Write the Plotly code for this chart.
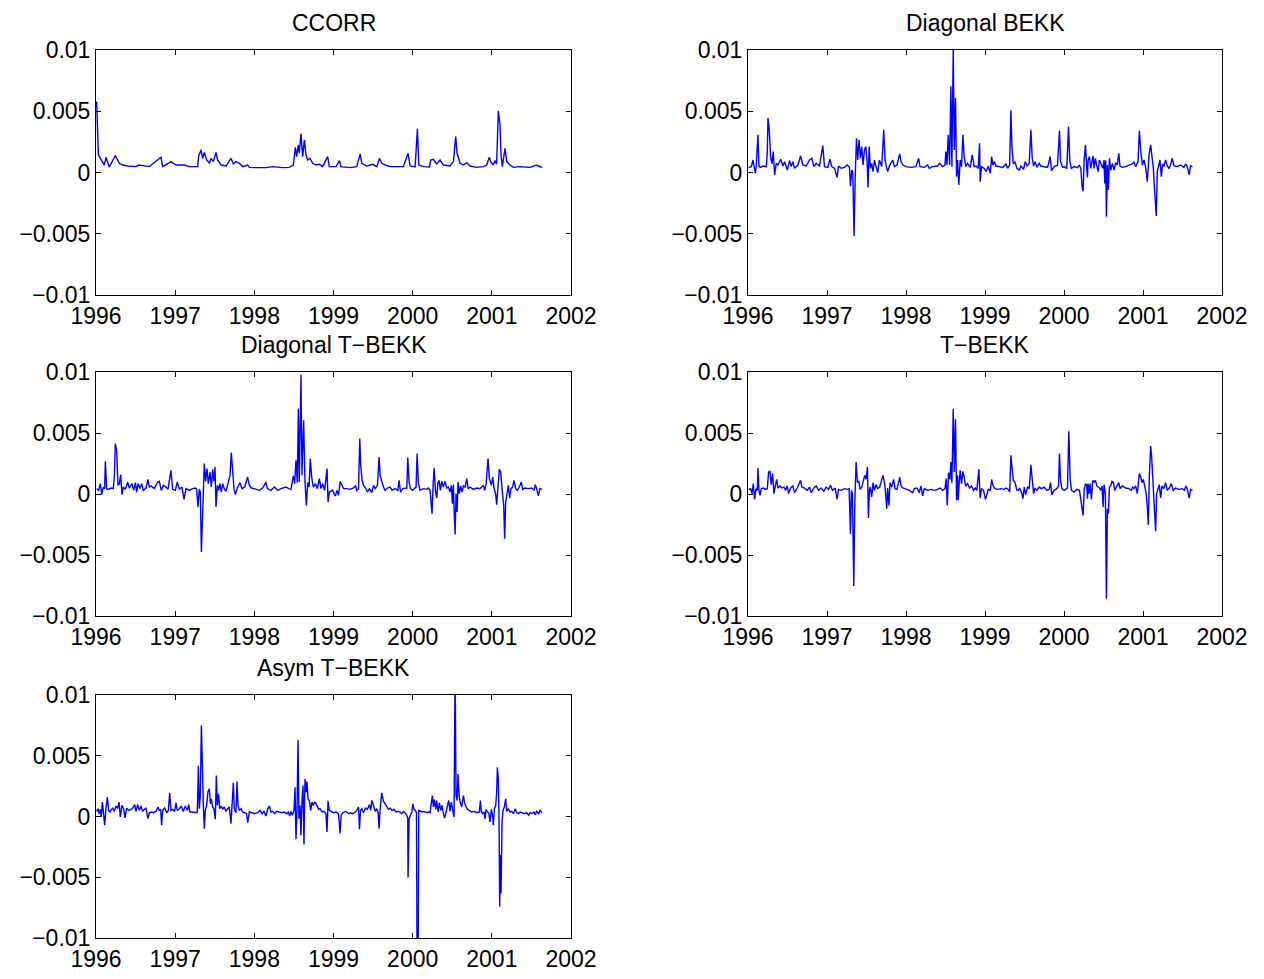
import plotly.graph_objects as go

# ---- data: (decimal year, value) ----
ccorr = [
(1996.008,0.0058),(1996.03,0.00143),(1996.105,0.00061),(1996.126,0.00124),(1996.168,0.00045),
(1996.244,0.00138),(1996.295,0.00075),(1996.337,0.00061),(1996.40,0.00053),(1996.505,0.00048),
(1996.539,0.00061),(1996.674,0.00048),(1996.821,0.00124),(1996.842,0.00048),(1996.947,0.00089),
(1997.011,0.00061),(1997.116,0.00061),(1997.179,0.00048),(1997.284,0.00048),(1997.297,0.00135),
(1997.326,0.00184),(1997.347,0.00116),(1997.368,0.00163),(1997.398,0.00102),(1997.432,0.00075),
(1997.453,0.00116),(1997.482,0.00089),(1997.516,0.00163),(1997.537,0.00102),(1997.579,0.00061),
(1997.642,0.00053),(1997.705,0.00116),(1997.735,0.0007),(1997.768,0.00089),(1997.811,0.00075),
(1997.853,0.00048),(1997.916,0.00061),(1997.937,0.00042),(1998.021,0.0004),(1998.147,0.0004),
(1998.232,0.00048),(1998.358,0.0004),(1998.442,0.00042),(1998.493,0.00061),(1998.518,0.00206),
(1998.535,0.0013),(1998.556,0.00225),(1998.568,0.00157),(1998.589,0.00316),(1998.611,0.0013),
(1998.632,0.00266),(1998.653,0.00143),(1998.674,0.00102),(1998.703,0.00116),(1998.737,0.00075),
(1998.779,0.00061),(1998.821,0.00067),(1998.863,0.00048),(1998.926,0.0013),(1998.947,0.00048),
(1999.032,0.00048),(1999.076,0.00097),(1999.093,0.00048),(1999.21,0.0004),(1999.294,0.00048),
(1999.337,0.00152),(1999.358,0.00075),(1999.421,0.00053),(1999.496,0.00067),(1999.547,0.00048),
(1999.581,0.00116),(1999.61,0.00075),(1999.652,0.00061),(1999.715,0.00048),(1999.82,0.00048),
(1999.883,0.00048),(1999.942,0.00157),(1999.968,0.00053),(2000.031,0.00045),(2000.06,0.00357),
(2000.077,0.00061),(2000.136,0.00048),(2000.212,0.00045),(2000.228,0.00102),(2000.262,0.00108),
(2000.304,0.0007),(2000.346,0.00102),(2000.388,0.00061),(2000.472,0.00053),(2000.515,0.00089),
(2000.544,0.00294),(2000.561,0.00157),(2000.599,0.00075),(2000.641,0.00061),(2000.683,0.00081),
(2000.725,0.00053),(2000.809,0.00042),(2000.893,0.00048),(2000.935,0.00061),(2000.969,0.00124),
(2000.986,0.00089),(2001.019,0.00061),(2001.04,0.00097),(2001.061,0.0007),(2001.082,0.00504),
(2001.103,0.0039),(2001.116,0.00143),(2001.133,0.00048),(2001.154,0.00143),(2001.167,0.00198),
(2001.188,0.00089),(2001.23,0.00061),(2001.272,0.00042),(2001.356,0.00048),(2001.482,0.00042),
(2001.566,0.00061),(2001.587,0.00053),(2001.634,0.00042),
]

diag_bekk = [
(1996.008,0.0004),(1996.042,0.00048),(1996.063,0.00102),(1996.076,0.00034),(1996.093,-0.00007),
(1996.105,0.00061),(1996.126,0.00307),(1996.139,0.00048),(1996.16,0.00042),(1996.189,0.00053),
(1996.232,0.00048),(1996.244,0.00163),(1996.253,0.00444),(1996.269,0.00348),(1996.286,0.0013),
(1996.303,0.0007),(1996.32,0.00171),(1996.337,-0.0002),(1996.358,0.00075),(1996.379,0.00061),
(1996.413,0.00108),(1996.442,0.00053),(1996.463,0.00089),(1996.497,0.0002),(1996.526,0.00097),
(1996.547,0.00048),(1996.568,0.00089),(1996.589,0.00034),(1996.632,0.00061),(1996.665,0.00135),
(1996.695,0.00061),(1996.737,0.00053),(1996.779,0.00102),(1996.808,0.00116),(1996.834,0.00048),
(1996.863,0.00075),(1996.905,0.00053),(1996.947,0.0022),(1996.968,0.00048),(1997.011,0.00042),
(1997.036,0.00108),(1997.061,0.00048),(1997.095,0.00034),(1997.128,-0.0004),(1997.145,0.00053),
(1997.179,0.00034),(1997.221,0.00042),(1997.255,0.00061),(1997.284,0.00042),(1997.297,-0.00111),
(1997.314,0.0002),(1997.326,0.00007),(1997.343,-0.0052),(1997.356,-0.00061),(1997.373,0.0028),
(1997.389,0.00102),(1997.406,0.00266),(1997.423,0.00116),(1997.44,0.00212),(1997.457,0.00061),
(1997.474,0.00184),(1997.491,0.00212),(1997.507,0.00089),(1997.52,-0.00122),(1997.533,0.00212),
(1997.549,0.00034),(1997.566,0.00075),(1997.583,0.00007),(1997.6,0.00102),(1997.621,0.00048),
(1997.642,-0.00001),(1997.663,0.00102),(1997.693,0.00048),(1997.718,0.00348),(1997.735,0.00102),
(1997.752,0.00048),(1997.768,0.00007),(1997.794,0.00061),(1997.832,0.00102),(1997.853,0.00048),
(1997.886,0.00061),(1997.92,0.00152),(1997.937,0.00089),(1997.962,0.00061),(1998.0,0.00048),
(1998.063,0.00042),(1998.126,0.00048),(1998.16,0.00116),(1998.177,0.00048),(1998.232,0.00042),
(1998.274,0.00061),(1998.295,0.00034),(1998.337,0.00048),(1998.4,0.00053),(1998.425,0.00075),
(1998.463,0.00048),(1998.493,0.00061),(1998.505,0.00171),(1998.518,0.00061),(1998.535,0.00307),
(1998.552,0.00061),(1998.568,0.00703),(1998.581,0.00048),(1998.598,0.0102),(1998.611,0.00184),
(1998.627,0.00608),(1998.64,-0.00034),(1998.653,0.00102),(1998.669,-0.00102),(1998.686,0.00102),
(1998.703,0.00048),(1998.72,0.00307),(1998.737,0.0013),(1998.758,0.00048),(1998.779,0.00075),
(1998.813,0.00042),(1998.838,0.00143),(1998.863,0.00048),(1998.888,0.00053),(1998.914,0.00034),
(1998.931,0.00239),(1998.939,-0.00075),(1998.956,0.00048),(1998.989,0.00034),(1999.015,0.00007),
(1999.042,0.00053),(1999.067,-0.00007),(1999.084,0.0013),(1999.101,0.00061),(1999.118,0.00089),
(1999.139,0.00053),(1999.181,0.00048),(1999.223,0.00042),(1999.265,0.0007),(1999.286,0.00034),
(1999.312,0.00061),(1999.328,0.00507),(1999.341,0.00212),(1999.358,0.0007),(1999.379,0.00089),
(1999.404,0.00034),(1999.434,0.0002),(1999.455,0.00053),(1999.488,0.00026),(1999.509,0.00089),
(1999.531,0.00053),(1999.56,0.00075),(1999.581,0.00348),(1999.598,0.00116),(1999.615,0.00053),
(1999.636,0.00089),(1999.657,0.00042),(1999.686,0.00075),(1999.707,0.00053),(1999.749,0.00048),
(1999.792,0.00042),(1999.825,0.0013),(1999.842,0.00015),(1999.876,0.00048),(1999.918,0.00061),
(1999.943,0.00343),(1999.956,0.00089),(1999.981,0.00042),(2000.002,0.00048),(2000.036,0.00034),
(2000.057,0.00376),(2000.074,0.00089),(2000.095,0.00034),(2000.128,0.00048),(2000.171,0.0004),
(2000.192,0.00061),(2000.213,0.00034),(2000.229,-0.00116),(2000.242,-0.00152),(2000.255,0.00102),
(2000.272,0.00225),(2000.288,0.00034),(2000.297,-0.0004),(2000.305,0.00102),(2000.322,0.0013),
(2000.339,0.00034),(2000.352,0.00075),(2000.368,0.00135),(2000.381,0.00034),(2000.398,0.00116),
(2000.415,0.00053),(2000.432,0.00007),(2000.448,0.00102),(2000.474,0.00061),(2000.491,0.00034),
(2000.507,0.00102),(2000.516,-0.00089),(2000.528,0.00097),(2000.537,-0.00362),(2000.549,0.00061),
(2000.562,-0.00143),(2000.575,0.00116),(2000.592,0.0002),(2000.613,0.00075),(2000.634,0.0002),
(2000.655,0.00081),(2000.676,0.00061),(2000.693,0.00157),(2000.709,0.00053),(2000.739,0.00042),
(2000.781,0.00048),(2000.823,0.00061),(2000.865,0.0007),(2000.886,0.00089),(2000.907,0.00048),
(2000.937,0.00089),(2000.954,0.00343),(2000.971,0.00184),(2000.992,0.00061),(2001.013,0.00102),
(2001.034,0.0004),(2001.055,-0.00075),(2001.076,0.00143),(2001.097,0.00225),(2001.114,0.00143),
(2001.131,0.00034),(2001.147,-0.00143),(2001.168,-0.00354),(2001.181,0.0001),(2001.198,0.00048),
(2001.215,0.00102),(2001.232,-0.00034),(2001.248,0.0007),(2001.265,0.00048),(2001.286,0.00102),
(2001.307,0.00053),(2001.328,0.00034),(2001.349,0.00061),(2001.371,0.00116),(2001.392,0.00053),
(2001.434,0.00048),(2001.476,0.00061),(2001.518,0.00042),(2001.539,0.0007),(2001.56,0.00048),
(2001.585,-0.0002),(2001.602,0.00053),(2001.627,0.00048),
]

diag_tbekk = [
(1996.008,0.00044),(1996.034,0.0003),(1996.055,0.00085),(1996.072,-0.00005),(1996.093,0.00057),
(1996.109,0.00044),(1996.118,0.00268),(1996.135,0.00044),(1996.16,0.00038),(1996.189,0.00049),
(1996.219,0.00044),(1996.232,0.00148),(1996.244,0.00413),(1996.261,0.00358),(1996.278,0.00071),
(1996.295,0.00085),(1996.312,0.00158),(1996.328,-0.00005),(1996.345,0.00057),(1996.371,0.00038),
(1996.4,0.00098),(1996.421,0.00049),(1996.455,0.00085),(1996.476,0.0003),(1996.497,0.00093),
(1996.514,0.00016),(1996.531,0.00085),(1996.556,0.00044),(1996.577,0.00085),(1996.598,0.0003),
(1996.632,0.00049),(1996.657,0.0012),(1996.674,0.00057),(1996.695,0.00066),(1996.737,0.00044),
(1996.779,0.00098),(1996.8,0.00104),(1996.825,0.0003),(1996.851,0.00071),(1996.884,0.00057),
(1996.909,0.00038),(1996.947,0.00194),(1996.968,0.00038),(1997.002,0.0003),(1997.027,0.00098),
(1997.053,0.00038),(1997.086,0.00057),(1997.112,-0.00044),(1997.137,0.00044),(1997.179,0.0003),
(1997.221,0.00044),(1997.255,0.00049),(1997.272,0.00038),(1997.288,-0.00107),(1997.305,0.00038),
(1997.318,0.00016),(1997.331,-0.00475),(1997.347,-0.00066),(1997.368,0.00249),(1997.385,0.00104),
(1997.402,0.00208),(1997.419,0.00085),(1997.44,0.0018),(1997.457,0.00057),(1997.474,0.00202),
(1997.491,0.00104),(1997.503,0.00221),(1997.516,-0.00107),(1997.533,0.00071),(1997.549,0.0003),
(1997.566,0.00085),(1997.583,0.00016),(1997.6,0.00085),(1997.621,0.00044),(1997.642,0.00022),
(1997.663,0.00077),(1997.693,0.00153),(1997.709,0.00339),(1997.726,0.00139),(1997.743,0.00044),
(1997.76,-0.00005),(1997.785,0.00049),(1997.819,0.00093),(1997.844,0.00044),(1997.878,0.00057),
(1997.916,0.00139),(1997.937,0.00071),(1997.962,0.00049),(1998.0,0.00044),(1998.063,0.0003),
(1998.105,0.00049),(1998.147,0.00098),(1998.164,0.00044),(1998.211,0.0003),(1998.253,0.00057),
(1998.295,0.0003),(1998.337,0.00044),(1998.4,0.00057),(1998.434,0.00044),(1998.463,0.00038),
(1998.493,0.00148),(1998.509,0.00085),(1998.526,0.00276),(1998.543,0.00093),(1998.556,0.00699),
(1998.568,0.00098),(1998.589,0.00978),(1998.602,0.00153),(1998.623,0.00604),(1998.64,0.00098),
(1998.657,-0.00093),(1998.674,0.00093),(1998.691,0.00057),(1998.707,0.0029),(1998.724,0.00139),
(1998.745,0.00057),(1998.771,0.00085),(1998.796,0.00044),(1998.821,0.00126),(1998.842,0.00044),
(1998.863,0.00085),(1998.888,0.0003),(1998.918,0.00208),(1998.931,-0.00066),(1998.947,0.00016),
(1998.989,0.0003),(1999.011,-0.00005),(1999.025,-0.00016),(1999.042,0.0003),(1999.063,-0.00011),
(1999.084,0.00104),(1999.105,0.00071),(1999.126,0.00044),(1999.168,0.00044),(1999.21,0.00038),
(1999.252,0.00049),(1999.278,0.00066),(1999.294,0.0003),(1999.316,0.00044),(1999.332,0.00454),
(1999.345,0.00221),(1999.362,0.00112),(1999.379,0.00071),(1999.404,0.00049),(1999.429,0.00016),
(1999.454,0.00044),(1999.484,0.00011),(1999.505,0.00071),(1999.526,0.00044),(1999.555,0.00071),
(1999.576,0.00303),(1999.589,0.00153),(1999.61,0.00093),(1999.631,0.00057),(1999.652,0.0003),
(1999.682,0.00049),(1999.715,0.00057),(1999.74,0.0003),(1999.778,0.00044),(1999.812,0.0003),
(1999.829,0.00112),(1999.846,0.00016),(1999.875,0.00044),(1999.904,0.00044),(1999.926,0.00049),
(1999.938,0.00298),(1999.955,0.00098),(1999.972,0.00044),(2000.001,0.0003),(2000.018,0.00044),
(2000.043,0.00057),(2000.056,0.00331),(2000.073,0.00085),(2000.094,0.0003),(2000.136,0.00044),
(2000.178,0.00038),(2000.199,0.00049),(2000.22,0.0003),(2000.233,-0.0012),(2000.245,-0.00161),
(2000.258,0.00071),(2000.271,0.00213),(2000.287,0.0003),(2000.304,-0.00033),(2000.317,0.00085),
(2000.334,0.00112),(2000.35,0.0003),(2000.367,0.00104),(2000.388,0.00057),(2000.409,0.00104),
(2000.43,0.00049),(2000.451,0.00057),(2000.472,0.00016),(2000.489,0.00071),(2000.502,-0.00079),
(2000.515,0.00077),(2000.523,-0.0012),(2000.536,-0.00331),(2000.548,0.00003),(2000.561,-0.00148),
(2000.573,0.00098),(2000.59,0.00003),(2000.607,0.00066),(2000.624,0.00016),(2000.641,0.00066),
(2000.662,0.00057),(2000.683,0.00126),(2000.7,0.00044),(2000.725,0.00057),(2000.767,0.00038),
(2000.809,0.00049),(2000.851,0.00044),(2000.872,0.00057),(2000.893,0.00071),(2000.91,0.0003),
(2000.927,0.00077),(2000.952,0.0029),(2000.969,0.00126),(2000.994,0.00071),(2001.011,0.00139),
(2001.028,0.00049),(2001.049,-0.00005),(2001.061,-0.00087),(2001.078,0.00112),(2001.095,0.00202),
(2001.112,0.0018),(2001.125,0.0003),(2001.137,-0.00011),(2001.15,-0.00093),(2001.162,-0.00366),
(2001.175,-0.00066),(2001.192,0.00016),(2001.209,0.00071),(2001.225,-0.00033),(2001.242,0.00044),
(2001.263,0.00057),(2001.28,0.00112),(2001.301,0.00044),(2001.322,0.0003),(2001.347,0.00057),
(2001.373,0.00098),(2001.39,0.00038),(2001.419,0.00049),(2001.461,0.00044),(2001.503,0.00049),
(2001.533,0.0003),(2001.549,0.00077),(2001.566,0.00044),(2001.587,-0.00016),(2001.608,0.00044),
(2001.634,0.00038),
]

tbekk = [
(1996.008,0.00038),(1996.034,0.00044),(1996.051,0.00003),(1996.067,0.00085),(1996.084,-0.00044),
(1996.101,0.00044),(1996.118,0.0003),(1996.126,0.00213),(1996.139,0.0003),(1996.152,-0.00011),
(1996.168,0.00044),(1996.194,0.00049),(1996.219,0.00038),(1996.244,0.00044),(1996.261,0.0018),
(1996.278,0.00186),(1996.295,0.00077),(1996.312,0.00167),(1996.328,0.00003),(1996.345,0.00071),
(1996.362,0.0012),(1996.379,0.00049),(1996.404,0.00066),(1996.429,0.00049),(1996.455,0.00057),
(1996.476,0.0003),(1996.497,0.00066),(1996.514,0.00003),(1996.539,0.00049),(1996.568,0.00066),
(1996.589,0.00011),(1996.623,0.00049),(1996.665,0.00112),(1996.682,0.00057),(1996.716,0.00049),
(1996.749,0.0003),(1996.779,0.00057),(1996.8,0.00011),(1996.834,0.00049),(1996.863,0.00066),
(1996.893,0.0003),(1996.926,0.00049),(1996.96,0.00022),(1996.989,0.00057),(1997.019,0.00038),
(1997.044,0.00071),(1997.069,0.0003),(1997.103,0.00049),(1997.128,-0.00044),(1997.145,0.00038),
(1997.179,0.0003),(1997.221,0.00044),(1997.255,0.00038),(1997.28,0.00044),(1997.297,-0.00325),
(1997.309,0.0003),(1997.322,0.00003),(1997.339,-0.00754),(1997.352,-0.00066),(1997.368,0.00262),
(1997.385,0.00098),(1997.402,0.00104),(1997.419,0.00038),(1997.44,0.00057),(1997.461,0.00112),
(1997.478,0.00153),(1997.495,0.0012),(1997.512,0.00221),(1997.524,-0.00197),(1997.537,0.0003),
(1997.549,0.00057),(1997.566,-0.00025),(1997.583,0.00093),(1997.6,0.0003),(1997.621,0.00077),
(1997.642,0.00044),(1997.667,0.00057),(1997.693,0.0012),(1997.709,0.00153),(1997.726,0.00098),
(1997.739,0.0003),(1997.756,-0.0012),(1997.768,0.00049),(1997.785,-0.00093),(1997.798,0.00093),
(1997.819,0.00057),(1997.844,0.0012),(1997.861,0.00044),(1997.886,0.00038),(1997.92,0.00139),
(1997.937,0.00066),(1997.962,0.00049),(1998.0,0.00038),(1998.042,0.0003),(1998.084,0.00011),
(1998.105,0.00044),(1998.139,0.00049),(1998.168,0.00011),(1998.189,0.00066),(1998.211,-0.00016),
(1998.232,0.00044),(1998.274,0.0003),(1998.316,0.00038),(1998.358,0.0003),(1998.4,0.00038),
(1998.434,0.00049),(1998.463,0.0003),(1998.493,0.00044),(1998.509,0.00126),(1998.522,-0.00093),
(1998.539,0.00175),(1998.556,0.0012),(1998.568,0.00262),(1998.581,0.00093),(1998.598,0.00699),
(1998.611,0.0018),(1998.627,0.00612),(1998.64,-0.00052),(1998.653,0.00153),(1998.661,-0.00052),
(1998.674,0.00098),(1998.686,0.00194),(1998.703,0.00085),(1998.72,0.00186),(1998.737,0.00139),
(1998.754,0.00066),(1998.779,0.00085),(1998.804,0.00049),(1998.829,0.00066),(1998.855,0.0003),
(1998.876,0.00049),(1998.897,0.0003),(1998.922,0.00202),(1998.939,-0.00033),(1998.956,0.00044),
(1998.981,0.0003),(1999.006,-0.00044),(1999.042,0.00038),(1999.067,0.0003),(1999.084,0.0012),
(1999.101,0.00071),(1999.126,0.00044),(1999.16,0.00038),(1999.202,0.00044),(1999.244,0.00038),
(1999.269,0.00049),(1999.295,0.00038),(1999.312,0.00016),(1999.328,0.00317),(1999.345,0.00194),
(1999.358,0.00112),(1999.379,0.00098),(1999.404,0.0003),(1999.421,0.0003),(1999.438,0.00049),
(1999.463,0.00011),(1999.48,-0.00038),(1999.497,0.00057),(1999.514,-0.00005),(1999.539,0.00057),
(1999.56,0.00044),(1999.581,0.0024),(1999.598,0.00077),(1999.615,0.00003),(1999.632,0.00049),
(1999.657,0.0003),(1999.686,0.00057),(1999.716,0.00044),(1999.749,0.00057),(1999.783,0.0003),
(1999.813,0.00038),(1999.829,0.00093),(1999.846,-0.00005),(1999.876,0.0003),(1999.909,0.00044),
(1999.931,0.00066),(1999.943,0.00331),(1999.956,0.00112),(1999.973,0.00044),(2000.002,0.0003),
(2000.023,0.00038),(2000.044,0.00049),(2000.061,0.00514),(2000.078,0.0012),(2000.095,0.0003),
(2000.128,0.00016),(2000.162,0.00038),(2000.196,0.0003),(2000.229,-0.0012),(2000.242,-0.00175),
(2000.255,0.0003),(2000.272,0.00085),(2000.288,0.00071),(2000.297,-0.00038),(2000.305,0.00085),
(2000.318,0.00003),(2000.331,0.00085),(2000.347,-0.00044),(2000.364,0.00112),(2000.381,0.00098),
(2000.398,0.00112),(2000.415,0.00066),(2000.432,0.00057),(2000.448,0.00049),(2000.465,0.0003),
(2000.482,0.00066),(2000.495,-0.00107),(2000.507,0.00077),(2000.524,0.00003),(2000.537,-0.00858),
(2000.549,-0.0012),(2000.562,-0.00161),(2000.575,0.00057),(2000.592,0.00071),(2000.608,0.00104),
(2000.625,0.00093),(2000.642,0.0003),(2000.659,0.00049),(2000.676,0.00066),(2000.693,0.00093),
(2000.709,0.00044),(2000.739,0.00066),(2000.781,0.00049),(2000.823,0.00044),(2000.853,0.0003),
(2000.869,0.00057),(2000.886,0.00044),(2000.907,0.00066),(2000.928,0.00003),(2000.954,0.00167),
(2000.971,0.00139),(2000.987,0.00093),(2001.004,0.0012),(2001.021,0.00057),(2001.038,0.00011),
(2001.055,-0.00107),(2001.067,-0.00251),(2001.08,0.00139),(2001.097,0.00393),(2001.109,0.00311),
(2001.122,0.00139),(2001.135,0.00003),(2001.147,-0.00134),(2001.16,-0.00306),(2001.173,0.00003),
(2001.189,0.00044),(2001.206,0.00077),(2001.223,-0.00033),(2001.24,0.00066),(2001.265,0.00044),
(2001.286,0.00093),(2001.307,0.0003),(2001.333,0.00049),(2001.358,0.00085),(2001.383,0.0003),
(2001.413,0.00049),(2001.455,0.00038),(2001.497,0.00044),(2001.526,0.0003),(2001.543,0.00066),
(2001.56,0.00044),(2001.585,-0.00033),(2001.602,0.00038),(2001.627,0.0003),
]

asym_tbekk = [
(1996.008,0.00042),(1996.025,0.00064),(1996.038,0.00023),(1996.055,0.00059),(1996.067,-0.00004),
(1996.08,0.00119),(1996.093,0.00042),(1996.109,-0.00072),(1996.126,0.00064),(1996.143,0.00159),
(1996.16,0.0005),(1996.177,0.00037),(1996.194,0.00059),(1996.211,0.00069),(1996.232,0.00042),
(1996.253,0.00086),(1996.274,0.00064),(1996.291,0.00119),(1996.307,-0.00004),(1996.328,0.00091),
(1996.349,0.00064),(1996.366,-0.00012),(1996.387,0.00069),(1996.413,0.0005),(1996.442,0.00059),
(1996.463,0.00069),(1996.488,0.00097),(1996.505,0.00042),(1996.526,0.00097),(1996.547,0.0005),
(1996.568,0.00086),(1996.589,0.00042),(1996.611,0.00059),(1996.632,0.00069),(1996.657,-0.00018),
(1996.674,0.00031),(1996.699,0.00037),(1996.724,0.00031),(1996.758,0.00042),(1996.783,0.00078),
(1996.8,0.0005),(1996.817,0.00059),(1996.829,-0.00072),(1996.842,0.0005),(1996.867,0.00069),
(1996.893,0.00031),(1996.914,0.0005),(1996.931,0.00195),(1996.947,0.0005),(1996.968,0.00059),
(1996.994,0.00042),(1997.011,0.00113),(1997.027,0.0005),(1997.053,0.00064),(1997.078,0.00086),
(1997.103,0.00042),(1997.128,0.00086),(1997.154,0.0005),(1997.171,0.00097),(1997.187,0.00037),
(1997.221,0.00037),(1997.255,0.00031),(1997.28,0.00037),(1997.293,0.00418),(1997.305,0.00064),
(1997.318,0.00173),(1997.331,0.00751),(1997.343,0.00364),(1997.356,0.00091),(1997.368,-0.001),
(1997.381,0.0005),(1997.398,0.00091),(1997.415,0.00206),(1997.432,0.00228),(1997.444,0.00105),
(1997.457,0.00146),(1997.474,0.00078),(1997.491,0.00059),(1997.507,-0.00023),(1997.52,0.00337),
(1997.533,0.00091),(1997.549,0.00187),(1997.562,0.00064),(1997.583,0.00086),(1997.6,0.00059),
(1997.621,0.00078),(1997.642,0.00042),(1997.663,0.00064),(1997.684,0.00078),(1997.705,-0.00059),
(1997.718,0.00105),(1997.735,0.00277),(1997.747,0.00064),(1997.768,0.00031),(1997.781,0.00287),
(1997.794,0.00091),(1997.811,0.0005),(1997.832,0.00064),(1997.853,0.00037),(1997.878,0.00031),
(1997.903,0.00023),(1997.916,-0.0005),(1997.937,0.00037),(1997.971,0.00031),(1998.0,0.00023),
(1998.042,0.00031),(1998.072,0.0005),(1998.097,0.00023),(1998.122,0.00042),(1998.147,0.00004),
(1998.168,0.00059),(1998.189,0.00086),(1998.211,0.00037),(1998.232,0.00042),(1998.257,0.00023),
(1998.282,0.00042),(1998.316,0.00037),(1998.349,0.00031),(1998.379,0.00037),(1998.408,0.00023),
(1998.429,0.00037),(1998.446,0.00004),(1998.463,0.00042),(1998.48,0.0001),(1998.501,0.0005),
(1998.514,0.00241),(1998.526,-0.00187),(1998.539,0.00037),(1998.552,0.0063),(1998.564,-0.00018),
(1998.577,0.00091),(1998.589,-0.00154),(1998.602,0.00132),(1998.615,0.00255),(1998.627,-0.0023),
(1998.64,0.00309),(1998.653,0.002),(1998.665,0.00287),(1998.678,0.00146),(1998.695,0.00132),
(1998.712,0.0005),(1998.728,0.00119),(1998.745,0.00091),(1998.762,0.00119),(1998.779,0.00105),
(1998.796,0.00078),(1998.813,0.00059),(1998.829,0.00064),(1998.855,0.00037),(1998.88,0.00042),
(1998.905,0.00023),(1998.918,-0.00127),(1998.931,0.00129),(1998.947,0.0005),(1998.973,0.00037),
(1998.998,0.00031),(1999.034,0.00037),(1999.063,0.00023),(1999.084,-0.0014),(1999.097,0.0001),
(1999.118,0.00031),(1999.147,0.00042),(1999.168,0.00037),(1999.194,0.00023),(1999.21,0.00031),
(1999.244,0.00023),(1999.273,0.00037),(1999.294,0.0005),(1999.316,0.00078),(1999.328,-0.00105),
(1999.341,0.0005),(1999.358,0.00064),(1999.379,0.00031),(1999.404,0.00069),(1999.429,0.00059),
(1999.454,0.00097),(1999.471,0.0005),(1999.484,0.00132),(1999.505,0.00091),(1999.526,0.00042),
(1999.547,0.00064),(1999.564,0.00031),(1999.576,-0.001),(1999.589,0.00059),(1999.61,0.00195),
(1999.631,0.00124),(1999.652,0.00105),(1999.673,0.00086),(1999.694,0.00059),(1999.715,0.00069),
(1999.74,0.0005),(1999.766,0.00059),(1999.791,0.00037),(1999.82,0.00042),(1999.841,0.00037),
(1999.862,0.00023),(1999.883,0.00042),(1999.904,0.00031),(1999.926,0.0001),(1999.938,-0.00018),
(1999.942,-0.00503),(1999.955,-0.00018),(1999.972,0.00004),(1999.989,0.00037),(2000.001,0.00105),
(2000.018,0.00059),(2000.035,0.0005),(2000.048,0.00031),(2000.056,-0.0125),(2000.069,-0.0125),
(2000.077,0.0005),(2000.094,0.00042),(2000.119,0.00037),(2000.144,0.00042),(2000.178,0.00031),
(2000.203,0.00037),(2000.22,0.00031),(2000.237,0.00119),(2000.249,0.00173),(2000.262,0.00078),
(2000.275,0.0014),(2000.292,0.00059),(2000.304,0.00132),(2000.321,0.00037),(2000.338,0.00113),
(2000.355,0.0005),(2000.371,0.00091),(2000.388,0.00023),(2000.405,-0.00012),(2000.422,0.00037),
(2000.439,0.00086),(2000.456,0.00132),(2000.472,0.00042),(2000.489,0.00119),(2000.506,0.0005),
(2000.523,-0.00004),(2000.536,0.0125),(2000.548,0.00173),(2000.561,0.00132),(2000.573,0.0035),
(2000.586,0.00173),(2000.599,0.00119),(2000.62,0.00078),(2000.641,0.00173),(2000.658,0.00105),
(2000.674,0.00078),(2000.691,0.00059),(2000.716,0.0005),(2000.746,0.00037),(2000.775,0.00042),
(2000.809,0.00031),(2000.843,0.00037),(2000.855,0.00132),(2000.868,0.00037),(2000.885,0.00023),
(2000.902,0.00037),(2000.914,-0.0002),(2000.927,0.00059),(2000.944,0.00037),(2000.96,0.00031),
(2000.977,-0.00045),(2000.994,0.00059),(2001.011,-0.00004),(2001.019,-0.00072),(2001.032,0.00064),
(2001.049,0.00091),(2001.061,0.002),(2001.07,0.00405),(2001.082,0.00309),(2001.091,-0.00018),
(2001.099,-0.0074),(2001.108,-0.00317),(2001.116,-0.00631),(2001.129,-0.00045),(2001.141,0.0005),
(2001.158,0.00078),(2001.175,0.00146),(2001.188,0.00042),(2001.209,0.00064),(2001.23,0.00037),
(2001.251,0.00042),(2001.272,0.00023),(2001.297,0.00064),(2001.314,0.00031),(2001.339,0.00023),
(2001.356,0.00037),(2001.39,0.00031),(2001.419,0.00023),(2001.44,0.00031),(2001.465,0.0001),
(2001.482,0.00031),(2001.503,0.00023),(2001.533,0.00037),(2001.549,0.00015),(2001.566,0.00042),
(2001.592,0.00023),(2001.608,0.0005),(2001.634,0.00031),
]

titles = ["CCORR", "Diagonal BEKK", "Diagonal T\u2212BEKK", "T\u2212BEKK", "Asym T\u2212BEKK"]
series = [ccorr, diag_bekk, diag_tbekk, tbekk, asym_tbekk]
x_ticks = [1996, 1997, 1998, 1999, 2000, 2001, 2002]
x_ticktext = ["1996", "1997", "1998", "1999", "2000", "2001", "2002"]
y_ticks = [-0.01, -0.005, 0, 0.005, 0.01]
y_ticktext = ["\u22120.01", "\u22120.005", "0", "0.005", "0.01"]

# ---- layout geometry (paper fractions) ----
W, H = 1264, 979
col_dom = [[96 / W, 571 / W], [748 / W, 1222 / W]]
row_dom = [[1 - 295 / H, 1 - 50 / H], [1 - 616 / H, 1 - 372 / H], [1 - 938 / H, 1 - 695 / H]]

FONT = "Liberation Sans, Arial, sans-serif"
FS = 23

fig = go.Figure()
layout = dict(
    width=W, height=H, margin=dict(l=0, r=0, t=0, b=0, autoexpand=False),
    paper_bgcolor="white", plot_bgcolor="white", showlegend=False,
    font=dict(family=FONT, size=FS, color="black"),
    template="none",
)
annotations = []
for i, (data, title) in enumerate(zip(series, titles)):
    r, c = divmod(i, 2)
    n = i + 1
    xa = "xaxis" if n == 1 else f"xaxis{n}"
    ya = "yaxis" if n == 1 else f"yaxis{n}"
    xs = [p[0] for p in data]
    ys = [p[1] for p in data]
    fig.add_trace(go.Scatter(
        x=xs, y=ys, mode="lines",
        line=dict(color="#0000ff", width=1.4),
        xaxis="x" if n == 1 else f"x{n}", yaxis="y" if n == 1 else f"y{n}",
        hoverinfo="skip",
    ))
    common = dict(showline=True, linecolor="black", linewidth=1, mirror="allticks",
                  ticks="inside", ticklen=5, tickcolor="black", tickwidth=1,
                  showgrid=False, zeroline=False, automargin=False,
                  tickfont=dict(family=FONT, size=FS, color="black"))
    layout[xa] = dict(domain=col_dom[c], range=[1996, 2002], tickmode="array",
                      tickvals=x_ticks, ticktext=x_ticktext,
                      anchor="y" if n == 1 else f"y{n}", **common)
    layout[ya] = dict(domain=row_dom[r], range=[-0.01, 0.01], tickmode="array",
                      tickvals=y_ticks, ticktext=y_ticktext,
                      anchor="x" if n == 1 else f"x{n}", **common)
    annotations.append(dict(
        text=title, x=(col_dom[c][0] + col_dom[c][1]) / 2, y=row_dom[r][1],
        xref="paper", yref="paper", xanchor="center", yanchor="bottom",
        yshift=12, showarrow=False, font=dict(family=FONT, size=FS, color="black"),
    ))
layout["annotations"] = annotations
fig.update_layout(**layout)
fig.write_html("out.html")
